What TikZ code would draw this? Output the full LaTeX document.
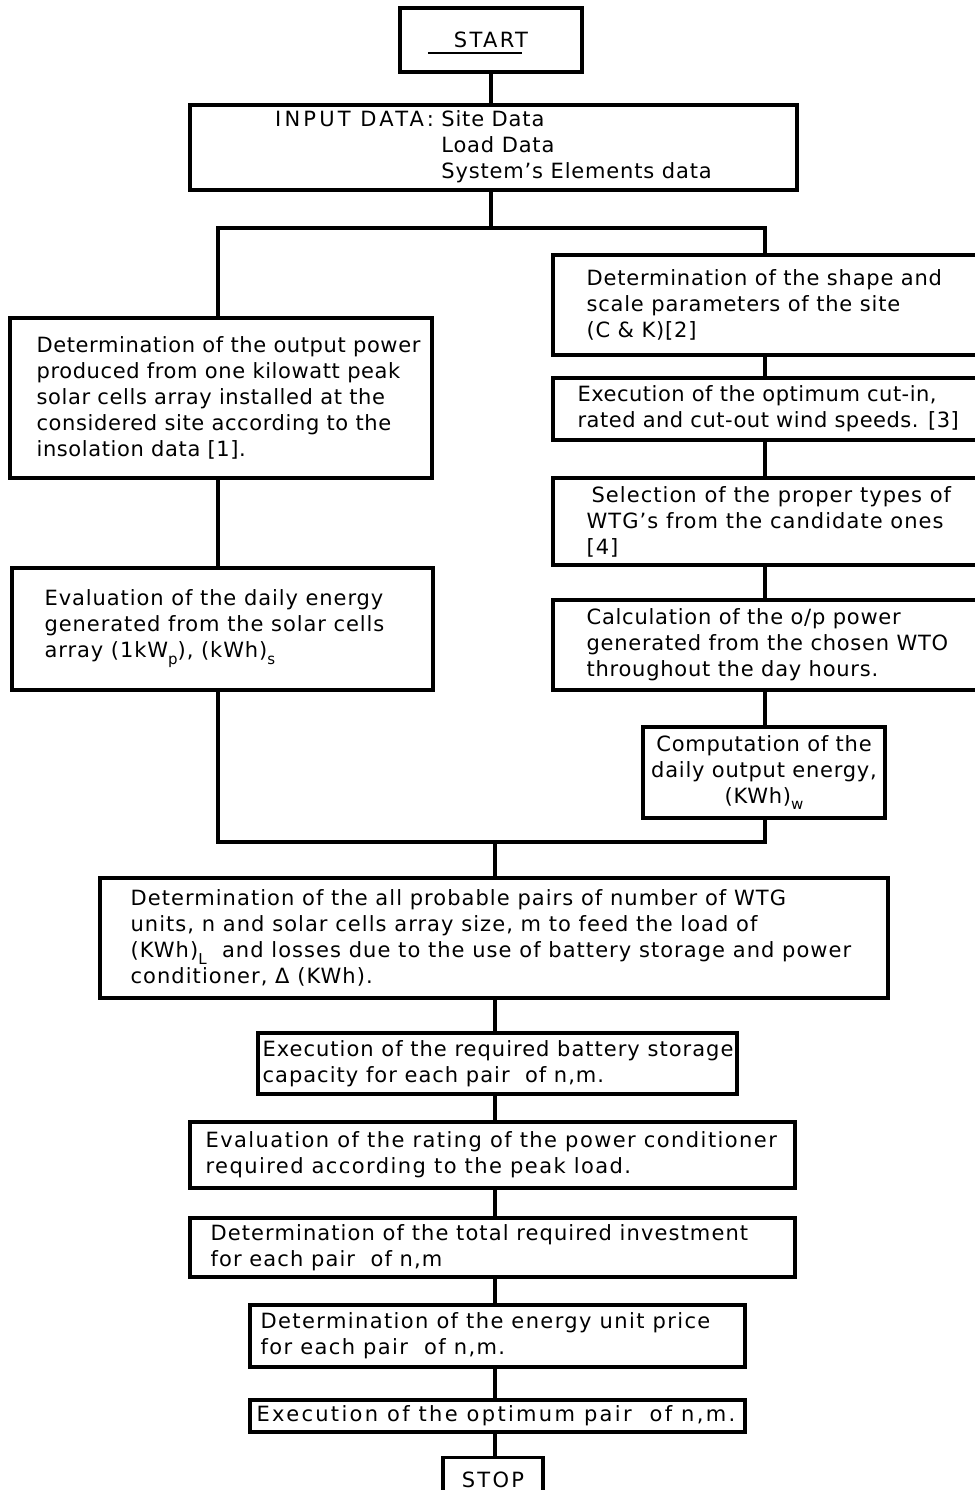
\documentclass[tikz,border=0pt]{standalone}
\usepackage{fontspec}
\setmainfont{DejaVu Sans}
\newcommand\lsub[1]{\raisebox{-0.6ex}{\fontsize{15}{15}\selectfont #1}}
\tikzset{
  boxst/.style={draw, rectangle, line width=3.2pt, inner sep=0pt},
  txt/.style={align=left, inner sep=0pt, font=\fontsize{21}{26}\selectfont\addfontfeature{LetterSpace=#1}},
  txt/.default=0,
  conn/.style={line width=3.2pt},
  uline/.style={line width=1.3pt}
}
% box with left-offset text: name, x1, y1, x2, y2, x offset, letter spacing, text
\newcommand\flowbox[8]{%
  \node[boxst, minimum width={(#4-#2)*1pt}, minimum height={(#5-#3)*1pt}] (#1) at ({(#2+#4)/2},{(#3+#5)/2}) {};
  \node[txt=#7, anchor=west] (#1t) at ([xshift=#6pt]#1.west) {#8};}
% box with centred text: name, x1, y1, x2, y2, letter spacing, text
\newcommand\flowboxc[7]{%
  \node[boxst, minimum width={(#4-#2)*1pt}, minimum height={(#5-#3)*1pt}] (#1) at ({(#2+#4)/2},{(#3+#5)/2}) {};
  \node[txt=#6, align=center] (#1t) at (#1.center) {#7};}
\begin{document}
\begin{tikzpicture}[x=1pt,y=-1pt]
\useasboundingbox[fill=white] (0,0) rectangle (974,1490);

\flowboxc{start}{400}{8}{582}{72}{11}{START}
\flowboxc{input}{190}{105}{797}{190}{4}{\begin{tabular}{@{}l@{ }l@{}}{\addfontfeature{LetterSpace=15}INPUT DATA:} & Site Data\\ & Load Data\\ & System's Elements data\end{tabular}}

\flowbox{L1}{10}{318}{432}{478}{28}{2.9}{Determination of the output power\\produced from one kilowatt peak\\solar cells array installed at the\\considered site according to the\\insolation data [1].}
\flowbox{L2}{12}{568}{433}{690}{34}{4.4}{Evaluation of the daily energy\\generated from the solar cells\\array (1kW\lsub{p}), (kWh)\lsub{s}}

\flowbox{R1}{553}{255}{980}{355}{35}{3.8}{Determination of the shape and\\scale parameters of the site\\(C \& K)[2]}
\flowbox{R2}{553}{378}{980}{440}{26}{2.4}{Execution of the optimum cut-in,\\rated and cut-out wind speeds. [3]}
\flowbox{R3}{553}{478}{980}{565}{35}{5}{\hspace{5pt}Selection of the proper types of\\WTG's from the candidate ones\\{[4]}}
\flowbox{R4}{553}{600}{980}{690}{35}{3.6}{Calculation of the o/p power\\generated from the chosen WTO\\throughout the day hours.}
\flowboxc{R5}{643}{727}{885}{818}{3.6}{Computation of the\\daily output energy,\\(KWh)\lsub{w}}

\flowbox{big}{100}{878}{888}{998}{32}{5}{Determination of the all probable pairs of number of WTG\\units, n and solar cells array size, m to feed the load of\\(KWh)\lsub{L}\ \ and losses due to the use of battery storage and power\\conditioner, Δ (KWh).}
\flowbox{bat}{258}{1033}{737}{1094}{6}{4.8}{Execution of the required battery storage\\capacity for each pair\ \ of n,m.}
\flowbox{pc}{190}{1122}{795}{1188}{17}{6.8}{Evaluation of the rating of the power conditioner\\required according to the peak load.}
\flowbox{inv}{190}{1218}{795}{1277}{22}{5.2}{Determination of the total required investment\\for each pair\ \ of n,m}
\flowbox{price}{250}{1305}{745}{1367}{12}{6.6}{Determination of the energy unit price\\for each pair\ \ of n,m.}
\flowbox{opt}{250}{1400}{745}{1432}{8}{11}{Execution of the optimum pair\ \ of n,m.}
\node[boxst, minimum width=100pt, minimum height=45pt] (stop) at (493,1480) {};
\node[txt=11, anchor=base] (stopt) at (493,1487) {STOP};

% underline under START
\draw[uline] ([xshift=-26pt,yshift=-5pt]startt.south west) -- ([xshift=-6pt,yshift=-5pt]startt.south east);

% connectors
\coordinate (splitL) at (218,228);
\coordinate (splitR) at (765,228);
\coordinate (joinL) at (218,842);
\coordinate (joinR) at (765,842);
\coordinate (joinM) at (495,842);

\draw[conn] (start.south) -- (start.south |- input.north);
\draw[conn] (start.south |- input.south) -- (start.south |- splitL);
\draw[conn] (splitL |- L1.north) -- (splitL) -- (splitR) -- (splitR |- R1.north);
\draw[conn] (splitL |- L1.south) -- (splitL |- L2.north);
\draw[conn] (splitL |- L2.south) -- (joinL) -- (joinR) -- (joinR |- R5.south);
\draw[conn] (splitR |- R1.south) -- (splitR |- R2.north);
\draw[conn] (splitR |- R2.south) -- (splitR |- R3.north);
\draw[conn] (splitR |- R3.south) -- (splitR |- R4.north);
\draw[conn] (splitR |- R4.south) -- (splitR |- R5.north);
\draw[conn] (joinM) -- (joinM |- big.north);
\draw[conn] (joinM |- big.south) -- (joinM |- bat.north);
\draw[conn] (joinM |- bat.south) -- (joinM |- pc.north);
\draw[conn] (joinM |- pc.south) -- (joinM |- inv.north);
\draw[conn] (joinM |- inv.south) -- (joinM |- price.north);
\draw[conn] (joinM |- price.south) -- (joinM |- opt.north);
\draw[conn] (joinM |- opt.south) -- (joinM |- stop.north);
\end{tikzpicture}
\end{document}
